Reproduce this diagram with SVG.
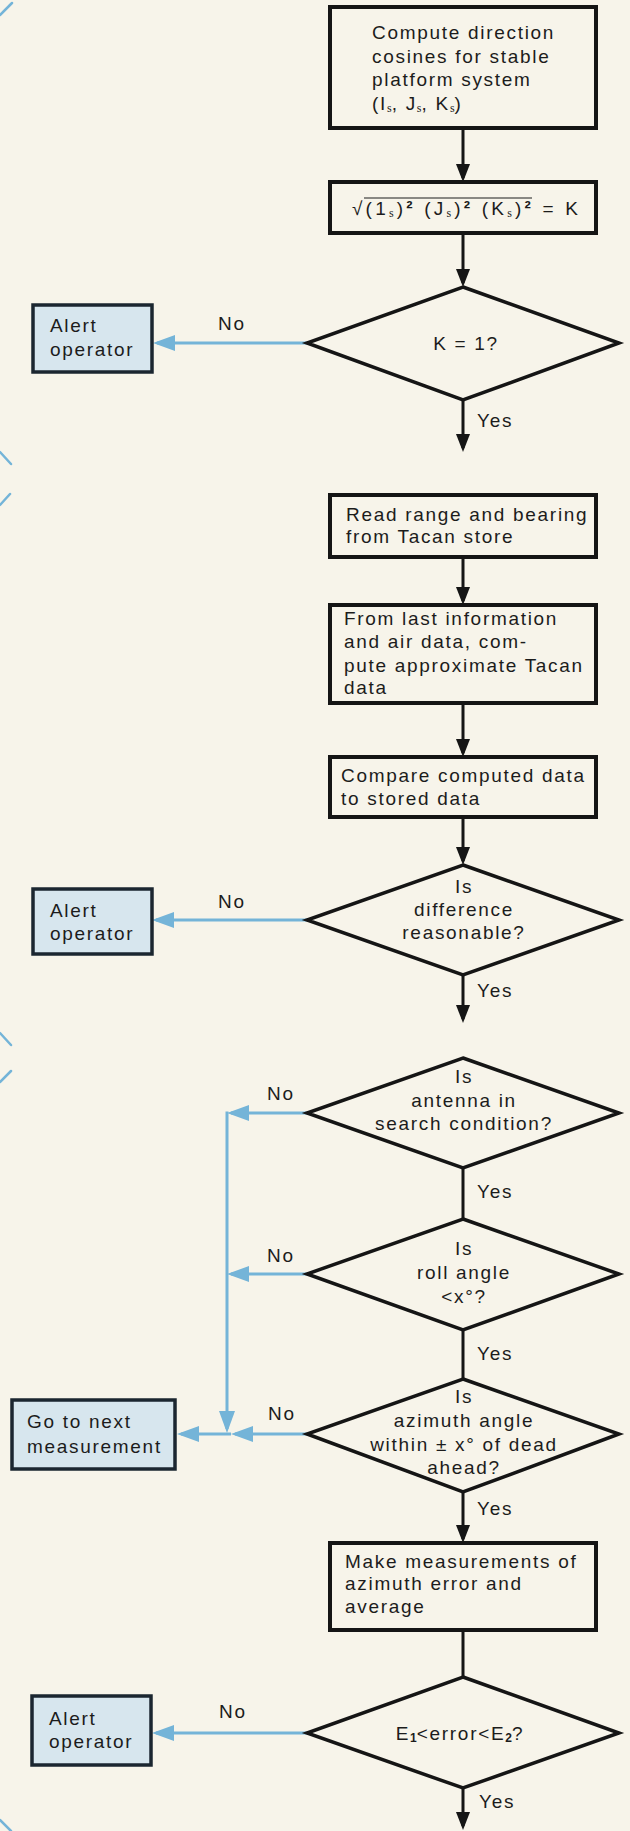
<svg xmlns="http://www.w3.org/2000/svg" width="630" height="1831" viewBox="0 0 630 1831">
<defs>
<style>
.bg{fill:#f7f4ea}
.box{fill:#f7f4ea;stroke:#151515;stroke-width:4}
.dia{fill:#f7f4ea;stroke:#151515;stroke-width:3.5;stroke-linejoin:miter}
.alert{fill:#d7e6ee;stroke:#1b2630;stroke-width:3.5}
.t{font-family:"Liberation Sans",Arial,sans-serif;font-size:19px;letter-spacing:1.7px;fill:#1c1c1c}
.m{text-anchor:middle}
.sub{font-family:"Liberation Serif","Times New Roman",serif;font-size:12px;letter-spacing:0}
.subn{font-size:12px;font-weight:bold;letter-spacing:0}
.sup{font-weight:bold}
.flow{fill:none;stroke:#151515;stroke-width:3}
.no{fill:none;stroke:#74b4d8;stroke-width:3}
.mark{fill:none;stroke:#74b4d8;stroke-width:2.5;stroke-linecap:round}
</style>
<marker id="ak" viewBox="0 0 18 14" markerWidth="18" markerHeight="14" refX="14" refY="7" orient="auto" markerUnits="userSpaceOnUse"><path d="M0,0 L18,7 L0,14 z" fill="#151515"/></marker>
<marker id="ab" viewBox="0 0 22 16" markerWidth="22" markerHeight="16" refX="18" refY="8" orient="auto" markerUnits="userSpaceOnUse"><path d="M0,0 L22,8 L0,16 z" fill="#74b4d8"/></marker>
</defs>
<rect class="bg" x="0" y="0" width="630" height="1831"/>

<g id="page-marks">
<path class="mark" d="M0,15 L12,3"/>
<path class="mark" d="M0,452 L11,464"/>
<path class="mark" d="M0,505 L10,494"/>
<path class="mark" d="M0,1033 L11,1045"/>
<path class="mark" d="M0,1082 L11,1071"/>
<path class="mark" d="M0,1820 L11,1831"/>
</g>

<g id="connectors">
<path class="flow" d="M463,128 V178" marker-end="url(#ak)"/>
<path class="flow" d="M463,233 V283" marker-end="url(#ak)"/>
<path class="flow" d="M463,400 V448" marker-end="url(#ak)"/>
<path class="flow" d="M463,557 V601" marker-end="url(#ak)"/>
<path class="flow" d="M463,703 V753" marker-end="url(#ak)"/>
<path class="flow" d="M463,817 V861" marker-end="url(#ak)"/>
<path class="flow" d="M463,975 V1019" marker-end="url(#ak)"/>
<path class="flow" d="M463,1168 V1219"/>
<path class="flow" d="M463,1330 V1379"/>
<path class="flow" d="M463,1492 V1539" marker-end="url(#ak)"/>
<path class="flow" d="M463,1630 V1677"/>
<path class="flow" d="M463,1788 V1826" marker-end="url(#ak)"/>

<path class="no" d="M307,343 H157" marker-end="url(#ab)"/>
<path class="no" d="M307,920 H156" marker-end="url(#ab)"/>
<path class="no" d="M307,1733 H156" marker-end="url(#ab)"/>
<path class="no" d="M309,1113 H231" marker-end="url(#ab)"/>
<path class="no" d="M227,1111.5 V1429" marker-end="url(#ab)"/>
<path class="no" d="M309,1274 H231" marker-end="url(#ab)"/>
<path class="no" d="M307,1434 H235" marker-end="url(#ab)"/>
<path class="no" d="M231,1434 H181" marker-end="url(#ab)"/>

<text class="t" x="218" y="330">No</text>
<text class="t" x="218" y="908">No</text>
<text class="t" x="267" y="1100">No</text>
<text class="t" x="267" y="1262">No</text>
<text class="t" x="268" y="1420">No</text>
<text class="t" x="219" y="1718">No</text>

<text class="t" x="477" y="427">Yes</text>
<text class="t" x="477" y="997">Yes</text>
<text class="t" x="477" y="1198">Yes</text>
<text class="t" x="477" y="1360">Yes</text>
<text class="t" x="477" y="1515">Yes</text>
<text class="t" x="479" y="1808">Yes</text>
</g>

<g id="n-compute-cosines">
<rect class="box" x="330" y="7" width="266" height="121"/>
<text class="t" x="372" y="39">Compute direction</text>
<text class="t" x="372" y="63">cosines for stable</text>
<text class="t" x="372" y="86">platform system</text>
<text class="t" x="372" y="110">(I<tspan class="sub" dy="2">s</tspan><tspan dy="-2">, J</tspan><tspan class="sub" dy="2">s</tspan><tspan dy="-2">, K</tspan><tspan class="sub" dy="2">s</tspan><tspan dy="-2">)</tspan></text>
</g>

<g id="n-formula">
<rect class="box" x="330" y="182" width="266" height="51"/>
<line x1="364" y1="198" x2="532" y2="198" stroke="#1c1c1c" stroke-width="1.2"/>
<text class="t" x="352" y="215" style="letter-spacing:0" textLength="226" lengthAdjust="spacing">√(1<tspan class="sub" dy="2">s</tspan><tspan dy="-2">)</tspan><tspan class="sup">²</tspan> (J<tspan class="sub" dy="2">s</tspan><tspan dy="-2">)</tspan><tspan class="sup">²</tspan> (K<tspan class="sub" dy="2">s</tspan><tspan dy="-2">)</tspan><tspan class="sup">²</tspan> = K</text>
</g>

<g id="n-k-equals-1">
<polygon class="dia" points="463,287 619,343 463,400 307,343"/>
<text class="t m" x="466" y="350">K = 1?</text>
</g>

<g id="n-alert-1">
<rect class="alert" x="33" y="305" width="119" height="67"/>
<text class="t" x="50" y="332">Alert</text>
<text class="t" x="50" y="356">operator</text>
</g>

<g id="n-read-range">
<rect class="box" x="330" y="495" width="266" height="62"/>
<text class="t" x="346" y="521">Read range and bearing</text>
<text class="t" x="346" y="543">from Tacan store</text>
</g>

<g id="n-approx-tacan">
<rect class="box" x="330" y="605" width="266" height="98"/>
<text class="t" x="344" y="625">From last information</text>
<text class="t" x="344" y="648">and air data, com-</text>
<text class="t" x="344" y="672">pute approximate Tacan</text>
<text class="t" x="344" y="694">data</text>
</g>

<g id="n-compare">
<rect class="box" x="330" y="757" width="266" height="60"/>
<text class="t" x="341" y="782">Compare computed data</text>
<text class="t" x="341" y="805">to stored data</text>
</g>

<g id="n-difference">
<polygon class="dia" points="463,865 619,920 463,975 307,920"/>
<text class="t m" x="464" y="893">Is</text>
<text class="t m" x="464" y="916">difference</text>
<text class="t m" x="464" y="939">reasonable?</text>
</g>

<g id="n-alert-2">
<rect class="alert" x="33" y="889" width="119" height="65"/>
<text class="t" x="50" y="917">Alert</text>
<text class="t" x="50" y="940">operator</text>
</g>

<g id="n-antenna">
<polygon class="dia" points="463,1058 619,1113 463,1168 307,1113"/>
<text class="t m" x="464" y="1083">Is</text>
<text class="t m" x="464" y="1107">antenna in</text>
<text class="t m" x="464" y="1130">search condition?</text>
</g>

<g id="n-roll">
<polygon class="dia" points="463,1219 619,1274 463,1330 307,1274"/>
<text class="t m" x="464" y="1255">Is</text>
<text class="t m" x="464" y="1279">roll angle</text>
<text class="t m" x="464" y="1303">&lt;x°?</text>
</g>

<g id="n-azimuth">
<polygon class="dia" points="463,1379 619,1434 463,1492 307,1434"/>
<text class="t m" x="464" y="1403">Is</text>
<text class="t m" x="464" y="1427">azimuth angle</text>
<text class="t m" x="464" y="1451">within ± x° of dead</text>
<text class="t m" x="464" y="1474">ahead?</text>
</g>

<g id="n-next-measurement">
<rect class="alert" x="12" y="1400" width="163" height="69"/>
<text class="t" x="27" y="1428">Go to next</text>
<text class="t" x="27" y="1453">measurement</text>
</g>

<g id="n-measure-error">
<rect class="box" x="330" y="1543" width="266" height="87"/>
<text class="t" x="345" y="1568">Make measurements of</text>
<text class="t" x="345" y="1590">azimuth error and</text>
<text class="t" x="345" y="1613">average</text>
</g>

<g id="n-error-range">
<polygon class="dia" points="463,1677 619,1733 463,1788 307,1733"/>
<text class="t m" x="460" y="1740">E<tspan class="subn" dy="2">1</tspan><tspan dy="-2">&lt;error&lt;E</tspan><tspan class="subn" dy="2">2</tspan><tspan dy="-2">?</tspan></text>
</g>

<g id="n-alert-3">
<rect class="alert" x="32" y="1696" width="119" height="69"/>
<text class="t" x="49" y="1725">Alert</text>
<text class="t" x="49" y="1748">operator</text>
</g>
</svg>
